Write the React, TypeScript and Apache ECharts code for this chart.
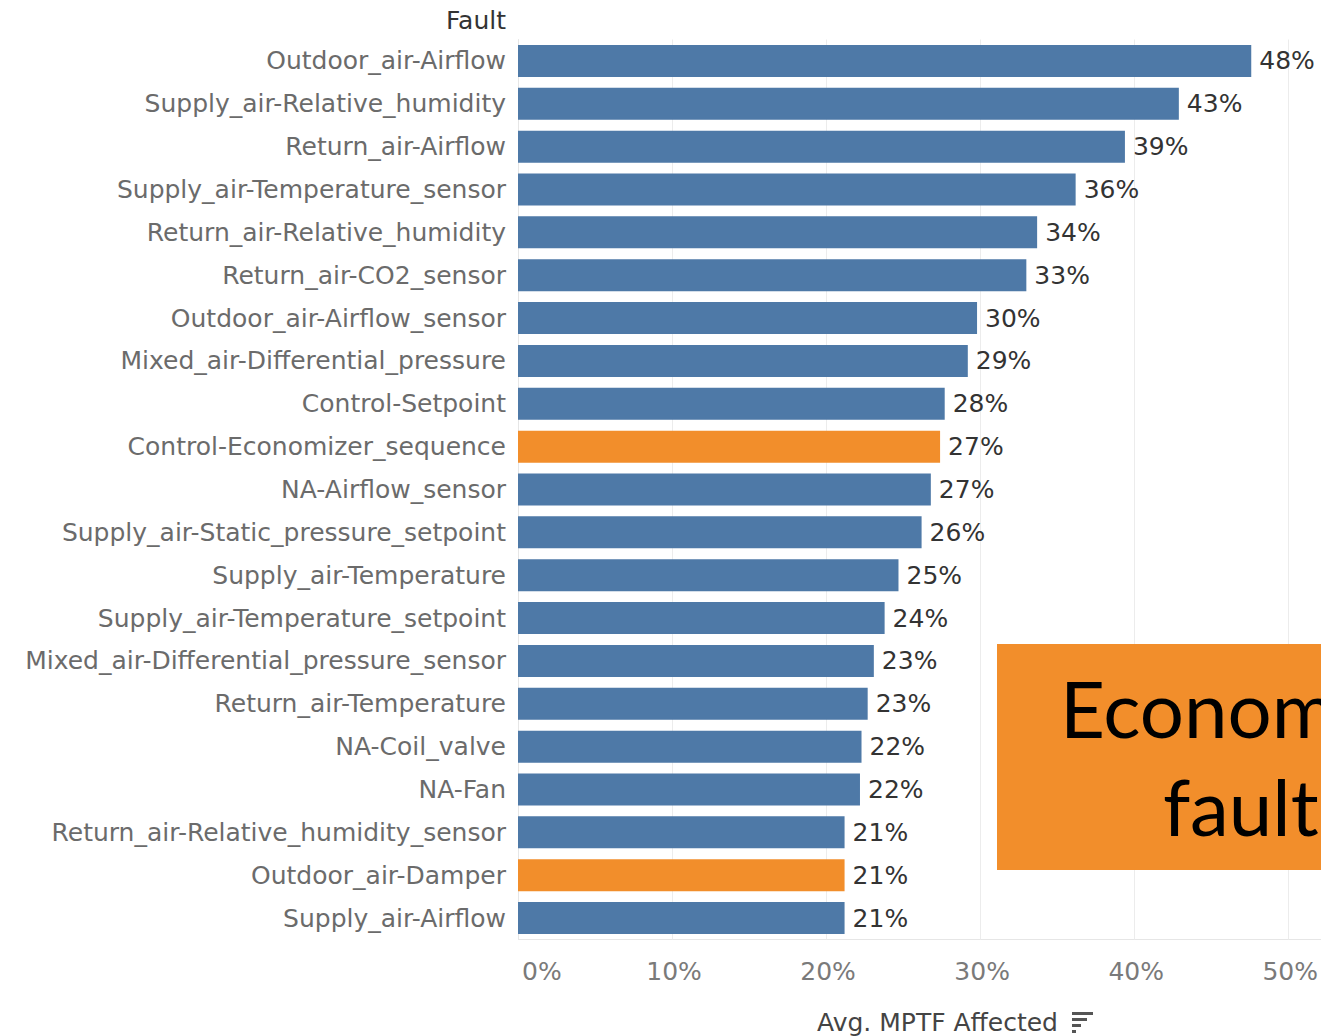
import React, { useEffect, useRef } from "react";
import * as echarts from "echarts";

const faults = [
  "Outdoor_air-Airflow",
  "Supply_air-Relative_humidity",
  "Return_air-Airflow",
  "Supply_air-Temperature_sensor",
  "Return_air-Relative_humidity",
  "Return_air-CO2_sensor",
  "Outdoor_air-Airflow_sensor",
  "Mixed_air-Differential_pressure",
  "Control-Setpoint",
  "Control-Economizer_sequence",
  "NA-Airflow_sensor",
  "Supply_air-Static_pressure_setpoint",
  "Supply_air-Temperature",
  "Supply_air-Temperature_setpoint",
  "Mixed_air-Differential_pressure_sensor",
  "Return_air-Temperature",
  "NA-Coil_valve",
  "NA-Fan",
  "Return_air-Relative_humidity_sensor",
  "Outdoor_air-Damper",
  "Supply_air-Airflow",
];

const mptfAffected = [
  47.6, 42.9, 39.4, 36.2, 33.7, 33.0, 29.8, 29.2, 27.7, 27.4, 26.8, 26.2, 24.7,
  23.8, 23.1, 22.7, 22.3, 22.2, 21.2, 21.2, 21.2,
];

const economizerFaults = ["Control-Economizer_sequence", "Outdoor_air-Damper"];

const xTicks = [0, 10, 20, 30, 40, 50];

const BLUE = "#4e79a7";
const ORANGE = "#f28e2b";
const LABEL_FONT = "'DejaVu Sans', 'Open Sans', sans-serif";
const FS = 25;

export default function App() {
  const ref = useRef<HTMLDivElement>(null);
  useEffect(() => {
    if (!ref.current) return;
    const chart = echarts.init(ref.current, null, { renderer: "svg" });
    chart.setOption({
      animation: false,
      backgroundColor: "#ffffff",
      grid: { left: 518, right: 31, top: 39.5, bottom: 96.5, containLabel: false },
      xAxis: {
        type: "value",
        min: xTicks[0],
        max: xTicks[xTicks.length - 1],
        interval: 10,
        axisLine: { show: false },
        axisTick: { show: false },
        splitLine: { show: true, lineStyle: { color: "#ececec", width: 1 } },
        axisLabel: {
          formatter: (v: number) => `${v}%`,
          color: "#7a7a7a",
          fontFamily: LABEL_FONT,
          fontSize: FS,
          margin: 19,
          alignMinLabel: "left",
          padding: [0, 0, 0, 4],
        },
      },
      yAxis: {
        type: "category",
        data: faults,
        inverse: true,
        axisLine: { show: true, lineStyle: { color: "#e6e6e6" } },
        axisTick: { show: false },
        axisLabel: {
          color: "#6b6b6b",
          fontFamily: LABEL_FONT,
          fontSize: FS,
          margin: 12,
        },
      },
      series: [
        {
          type: "bar",
          barWidth: 32,
          data: mptfAffected.map((v, i) => ({
            value: v,
            itemStyle: { color: economizerFaults.includes(faults[i]) ? ORANGE : BLUE },
          })),
          label: {
            show: true,
            position: "right",
            distance: 8,
            color: "#333333",
            fontFamily: LABEL_FONT,
            fontSize: FS,
            formatter: (p: any) => `${Math.round(p.value)}%`,
          },
        },
      ],
      graphic: [
        {
          type: "line",
          shape: { x1: 518, y1: 939.5, x2: 1321, y2: 939.5 },
          style: { stroke: "#e6e6e6", lineWidth: 1 },
        },
        {
          type: "text",
          x: 506,
          y: 20,
          style: {
            text: "Fault",
            fill: "#333333",
            font: `${FS}px ${LABEL_FONT}`,
            textAlign: "right",
            textVerticalAlign: "middle",
          },
        },
        {
          type: "text",
          x: 1058,
          y: 1022,
          style: {
            text: "Avg. MPTF Affected",
            fill: "#444444",
            font: `${FS}px ${LABEL_FONT}`,
            textAlign: "right",
            textVerticalAlign: "middle",
          },
        },
        { type: "rect", shape: { x: 1072, y: 1012, width: 21, height: 3 }, style: { fill: "#555" } },
        { type: "rect", shape: { x: 1072, y: 1018, width: 15, height: 3 }, style: { fill: "#555" } },
        { type: "rect", shape: { x: 1072, y: 1024, width: 9, height: 3 }, style: { fill: "#555" } },
        { type: "rect", shape: { x: 1072, y: 1030, width: 4, height: 3 }, style: { fill: "#555" } },
        {
          type: "rect",
          shape: { x: 997, y: 644, width: 330, height: 226 },
          style: { fill: "#f28e2b" },
          z: 100,
        },
        {
          type: "text",
          x: 1060,
          y: 708,
          z: 101,
          style: {
            text: "Economizer",
            fill: "#000000",
            font: `78px Lato, 'Open Sans', sans-serif`,
            textAlign: "left",
            textVerticalAlign: "middle",
          },
        },
        {
          type: "text",
          x: 1163,
          y: 806,
          z: 101,
          style: {
            text: "faults",
            fill: "#000000",
            font: `78px Lato, 'Open Sans', sans-serif`,
            textAlign: "left",
            textVerticalAlign: "middle",
          },
        },
      ],
    });
    return () => chart.dispose();
  }, []);
  return <div ref={ref} style={{ width: 1321, height: 1036, position: "absolute", left: 0, top: 0 }} />;
}
